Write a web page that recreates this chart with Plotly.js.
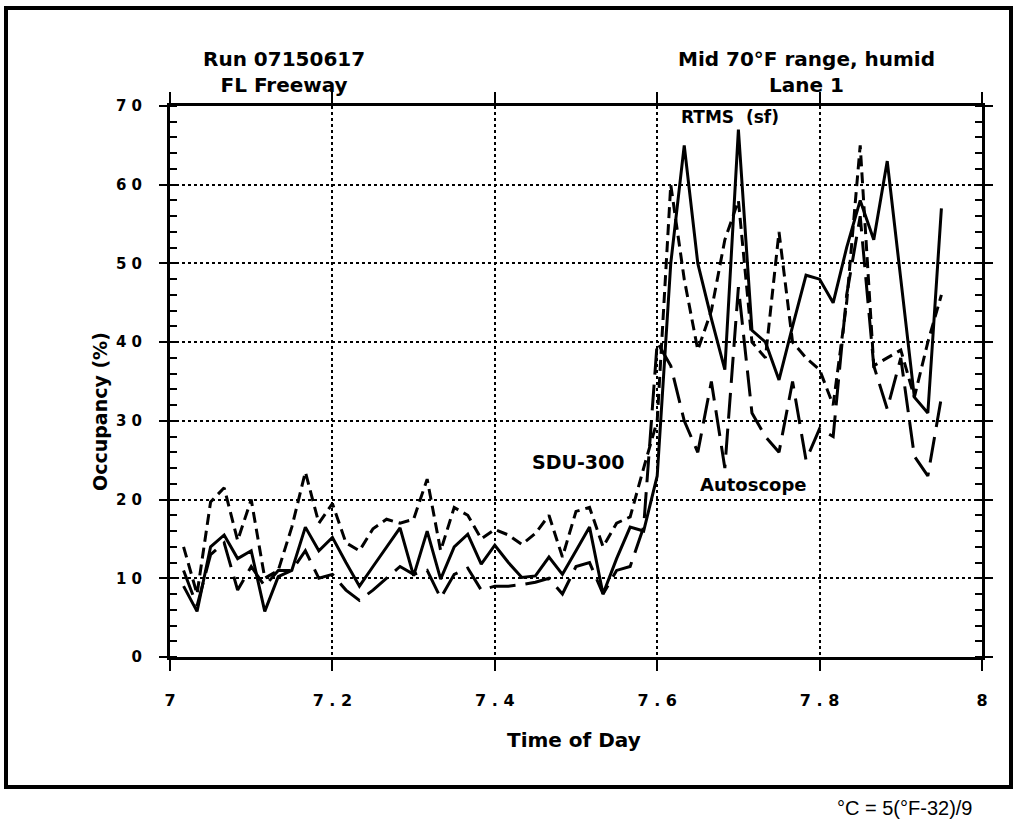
<!DOCTYPE html>
<html>
<head>
<meta charset="utf-8">
<script src="https://cdn.plot.ly/plotly-3.0.1.min.js"></script>
<style>html,body{margin:0;padding:0;background:#fff;}#chart{width:1017px;height:824px;}</style>
</head>
<body>
<div id="chart"></div>
<script>
// Time of day (hours), one sample per minute
const timeOfDay = [7.0167,7.0333,7.05,7.0667,7.0833,7.1,7.1167,7.1333,7.15,7.1667,7.1833,7.2,7.2167,7.2333,7.25,7.2667,7.2833,7.3,7.3167,7.3333,7.35,7.3667,7.3833,7.4,7.4167,7.4333,7.45,7.4667,7.4833,7.5,7.5167,7.5333,7.55,7.5667,7.5833,7.6,7.6167,7.6333,7.65,7.6667,7.6833,7.7,7.7167,7.7333,7.75,7.7667,7.7833,7.8,7.8167,7.8333,7.85,7.8667,7.8833,7.9,7.9167,7.9333,7.95];
// Occupancy (%)
const rtms = [9,5.8,14,15.5,12.5,13.5,5.8,10.2,11,16.5,13.5,15.2,12,9,11.5,14,16.4,10.3,16,9.9,14,15.6,11.8,14.2,12,10.1,10.3,12.7,10.5,13.5,16.5,8,12.5,16.5,16,23,50,65,50,43,36.5,67,41.5,40,35.2,42,48.5,48,45,52,58,53,63,48,33,31,57];
const sdu300 = [14,8,19.7,21.5,14.8,20,10,11,16.5,23.5,17,19.5,14.5,13.5,16.3,17.5,17,17.5,22.6,13.5,19,18,15,16.2,15.5,14.3,15.7,18,12.7,18.5,19,14,17,17.8,24,30,60,48,39,44,53,58,40,38,54,40,38,36.5,32,45,65,37,38,39,33,40,46];
const autoscope = [11,6.5,13,14.5,8.5,11.5,9,11,11,13.5,10,10.5,8.5,7.2,8.5,10,11.5,10.5,11,7.5,10.5,11.3,8.5,9,9,9.2,9.5,10,8,11.5,12,8,11,11.5,16.5,40,37,30,26,35,24,47,31,28,26,35,25,29,28,46,56,37,31.5,38,25.5,23,33];
const xTickVals = [7,7.2,7.4,7.6,7.8,8];
const xTickText = ['7','7 . 2','7 . 4','7 . 6','7 . 8','8'];
const yTickVals = [0,10,20,30,40,50,60,70];
const yTickText = ['0','1 0','2 0','3 0','4 0','5 0','6 0','7 0'];

const BOLD = {family:'DejaVu Sans, Arial, sans-serif', weight:'bold', color:'#000'};
function bf(size){ return Object.assign({}, BOLD, {size:size}); }

const traces = [
  {x: timeOfDay, y: rtms, type:'scatter', mode:'lines', name:'RTMS (sf)',
   line:{color:'#000', width:3}},
  {x: timeOfDay, y: sdu300, type:'scatter', mode:'lines', name:'SDU-300',
   line:{color:'#000', width:3, dash:'11px,6px'}},
  {x: timeOfDay, y: autoscope, type:'scatter', mode:'lines', name:'Autoscope',
   line:{color:'#000', width:3, dash:'26px,10px'}}
];

const W = 1017, H = 824, L = 170, R = 35, T = 106, B = 167;
const pw = W - L - R, ph = H - T - B;
function px(xp){ return (xp - L) / pw; }
function py(yp){ return (H - B - yp) / ph; }

const layout = {
  width: W, height: H,
  margin: {l:L, r:R, t:T, b:B, pad:0},
  paper_bgcolor:'#fff', plot_bgcolor:'#fff',
  showlegend:false,
  xaxis:{
    range:[7,8], tickvals:xTickVals, ticktext:xTickText,
    ticks:'outside', ticklen:11, tickwidth:2, tickcolor:'#000',
    showline:true, linewidth:3, linecolor:'#000', mirror:'ticks',
    showgrid:true, gridcolor:'#000', gridwidth:2, griddash:'dot',
    zeroline:false, tickfont:bf(16), ticklabelstandoff:16, fixedrange:true
  },
  yaxis:{
    range:[0,70], tickvals:yTickVals, ticktext:yTickText,
    ticks:'outside', ticklen:8, tickwidth:2, tickcolor:'#000',
    minor:{dtick:2, ticks:'inside', ticklen:7, tickwidth:2, tickcolor:'#000', showgrid:false},
    showline:true, linewidth:3, linecolor:'#000', mirror:'ticks',
    showgrid:true, gridcolor:'#000', gridwidth:2, griddash:'dot',
    zeroline:false, tickfont:bf(15), ticklabelstandoff:14, fixedrange:true
  },
  shapes:[
    {type:'rect', xref:'paper', yref:'paper', x0:px(6), x1:px(1011), y0:py(787), y1:py(8),
     line:{color:'#000', width:4}, fillcolor:'rgba(0,0,0,0)'}
  ],
  annotations:[
    {xref:'paper', yref:'paper', x:px(284), y:py(72), text:'Run 07150617<br>FL Freeway',
     showarrow:false, xanchor:'center', yanchor:'middle', font:bf(20)},
    {xref:'paper', yref:'paper', x:px(806), y:py(72), text:'Mid 70°F range, humid<br>Lane 1',
     showarrow:false, xanchor:'center', yanchor:'middle', font:bf(20)},
    {xref:'paper', yref:'paper', x:px(574), y:py(740), text:'Time of Day',
     showarrow:false, xanchor:'center', yanchor:'middle', font:bf(20)},
    {xref:'paper', yref:'paper', x:px(100), y:py(412), text:'Occupancy (%)', textangle:-90,
     showarrow:false, xanchor:'center', yanchor:'middle', font:bf(19)},
    {xref:'paper', yref:'paper', x:px(974), y:py(808), text:'°C = 5(°F-32)/9',
     showarrow:false, xanchor:'right', yanchor:'middle',
     font:{family:'Liberation Sans, Arial, sans-serif', size:20, color:'#000'}},
    {xref:'x', yref:'y', x:7.69, y:68.6, text:'RTMS  (sf)', showarrow:false,
     xanchor:'center', yanchor:'middle', font:bf(17)},
    {xref:'x', yref:'y', x:7.5025, y:24.8, text:'SDU-300', showarrow:false,
     xanchor:'center', yanchor:'middle', font:bf(19)},
    {xref:'x', yref:'y', x:7.719, y:21.9, text:'Autoscope', showarrow:false,
     xanchor:'center', yanchor:'middle', font:bf(18)}
  ]
};

Plotly.newPlot('chart', traces, layout, {displayModeBar:false, staticPlot:true});
</script>
</body>
</html>
